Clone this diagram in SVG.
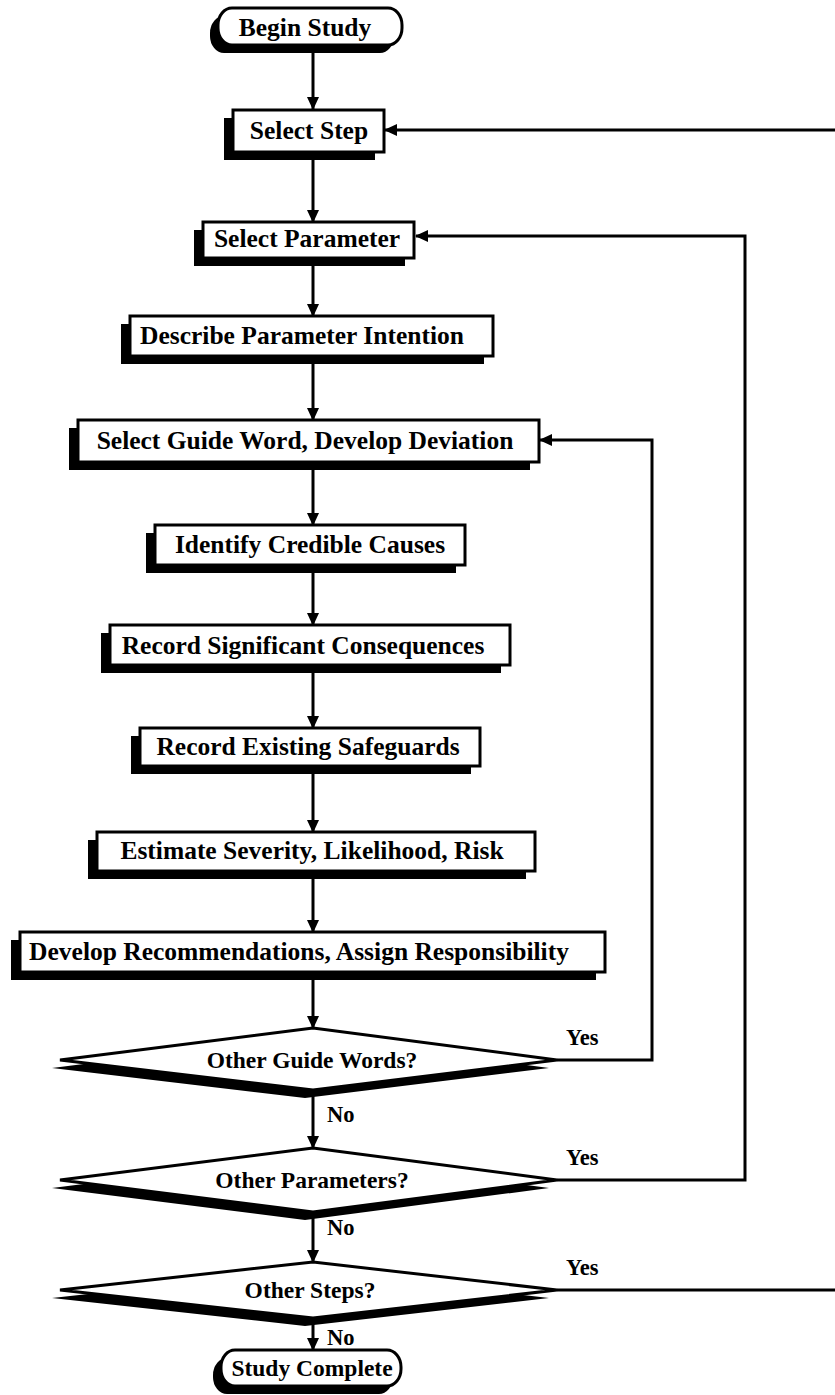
<svg xmlns="http://www.w3.org/2000/svg" width="835" height="1395" viewBox="0 0 835 1395">
<defs>
<style>
.box{fill:#fff;stroke:#000;stroke-width:3}
.sh{fill:#000;stroke:none}
.t{font-family:"Liberation Serif","Times New Roman",serif;font-weight:bold;font-size:25.5px;fill:#000;text-anchor:middle}
.d{font-family:"Liberation Serif","Times New Roman",serif;font-weight:bold;font-size:23.5px;fill:#000;text-anchor:middle}
.l{font-family:"Liberation Serif","Times New Roman",serif;font-weight:bold;font-size:22.5px;fill:#000}
.c{fill:none;stroke:#000;stroke-width:3}
</style>
<marker id="ah" markerWidth="14" markerHeight="14" refX="12" refY="6" orient="auto" markerUnits="userSpaceOnUse" viewBox="0 0 14 12">
<path d="M0,0 L13,6 L0,12 Z" fill="#000"/>
</marker>
</defs>
<rect width="835" height="1395" fill="#fff"/>
<g id="connectors">
<line class="c" x1="313" y1="45" x2="313" y2="109" marker-end="url(#ah)"/>
<line class="c" x1="313" y1="152" x2="313" y2="222" marker-end="url(#ah)"/>
<line class="c" x1="313" y1="258" x2="313" y2="316" marker-end="url(#ah)"/>
<line class="c" x1="313" y1="356" x2="313" y2="420" marker-end="url(#ah)"/>
<line class="c" x1="313" y1="462" x2="313" y2="525" marker-end="url(#ah)"/>
<line class="c" x1="313" y1="565" x2="313" y2="625" marker-end="url(#ah)"/>
<line class="c" x1="313" y1="665" x2="313" y2="728" marker-end="url(#ah)"/>
<line class="c" x1="313" y1="766" x2="313" y2="832" marker-end="url(#ah)"/>
<line class="c" x1="313" y1="871" x2="313" y2="932" marker-end="url(#ah)"/>
<line class="c" x1="313" y1="972" x2="313" y2="1028" marker-end="url(#ah)"/>
<line class="c" x1="313" y1="1090" x2="313" y2="1148" marker-end="url(#ah)"/>
<line class="c" x1="313" y1="1212" x2="313" y2="1262" marker-end="url(#ah)"/>
<line class="c" x1="313" y1="1318" x2="313" y2="1350" marker-end="url(#ah)"/>
<polyline class="c" points="557,1060 652,1060 652,440 540,440" marker-end="url(#ah)"/>
<polyline class="c" points="557,1180 745,1180 745,236 416,236" marker-end="url(#ah)"/>
<polyline class="c" points="557,1290 835,1290"/>
<polyline class="c" points="835,130 385,130" marker-end="url(#ah)"/>
<text class="l" x="566" y="1045">Yes</text>
<text class="l" x="566" y="1165">Yes</text>
<text class="l" x="566" y="1275">Yes</text>
<text class="l" x="327" y="1122">No</text>
<text class="l" x="327" y="1235">No</text>
<text class="l" x="327" y="1345">No</text>
</g>
<g id="begin">
<rect class="sh" x="210" y="16" width="184" height="37" rx="14" ry="17"/>
<rect class="box" x="218" y="8" width="184" height="37" rx="14" ry="17"/>
<text class="t" x="305" y="36">Begin Study</text>
</g>
<g id="select-step">
<rect class="sh" x="224" y="118" width="151" height="42"/>
<rect class="box" x="233" y="110" width="151" height="42"/>
<text class="t" x="309" y="139">Select Step</text>
</g>
<g id="select-parameter">
<rect class="sh" x="194" y="230" width="211" height="36"/>
<rect class="box" x="203" y="222" width="211" height="36"/>
<text class="t" x="307" y="247">Select Parameter</text>
</g>
<g id="describe">
<rect class="sh" x="121" y="324" width="363" height="40"/>
<rect class="box" x="130" y="316" width="363" height="40"/>
<text class="t" x="302" y="344">Describe Parameter Intention</text>
</g>
<g id="guide-word">
<rect class="sh" x="69" y="428" width="461" height="42"/>
<rect class="box" x="78" y="420" width="461" height="42"/>
<text class="t" x="305" y="449">Select Guide Word, Develop Deviation</text>
</g>
<g id="causes">
<rect class="sh" x="146" y="533" width="310" height="40"/>
<rect class="box" x="155" y="525" width="310" height="40"/>
<text class="t" x="310" y="553">Identify Credible Causes</text>
</g>
<g id="consequences">
<rect class="sh" x="101" y="633" width="400" height="40"/>
<rect class="box" x="110" y="625" width="400" height="40"/>
<text class="t" x="303" y="654">Record Significant Consequences</text>
</g>
<g id="safeguards">
<rect class="sh" x="131" y="736" width="340" height="38"/>
<rect class="box" x="140" y="728" width="340" height="38"/>
<text class="t" x="308" y="755">Record Existing Safeguards</text>
</g>
<g id="estimate">
<rect class="sh" x="88" y="840" width="438" height="39"/>
<rect class="box" x="97" y="832" width="438" height="39"/>
<text class="t" x="312" y="859">Estimate Severity, Likelihood, Risk</text>
</g>
<g id="recommend">
<rect class="sh" x="11" y="940" width="585" height="40"/>
<rect class="box" x="20" y="932" width="585" height="40"/>
<text class="t" x="299" y="960">Develop Recommendations, Assign Responsibility</text>
</g>
<g id="d-guide">
<polygon class="sh" points="52,1068 305,1036 549,1068 305,1098"/>
<polygon class="box" points="60,1060 313,1028 557,1060 313,1090"/>
<text class="d" x="312" y="1068">Other Guide Words?</text>
</g>
<g id="d-param">
<polygon class="sh" points="52,1188 305,1156 549,1188 305,1220"/>
<polygon class="box" points="60,1180 313,1148 557,1180 313,1212"/>
<text class="d" x="312" y="1188">Other Parameters?</text>
</g>
<g id="d-steps">
<polygon class="sh" points="52,1298 305,1270 549,1298 305,1326"/>
<polygon class="box" points="60,1290 313,1262 557,1290 313,1318"/>
<text class="d" x="310" y="1298">Other Steps?</text>
</g>
<g id="complete">
<rect class="sh" x="213" y="1358" width="180" height="36" rx="14" ry="17"/>
<rect class="box" x="221" y="1350" width="180" height="36" rx="14" ry="17"/>
<text class="d" x="312" y="1376">Study Complete</text>
</g>
</svg>
